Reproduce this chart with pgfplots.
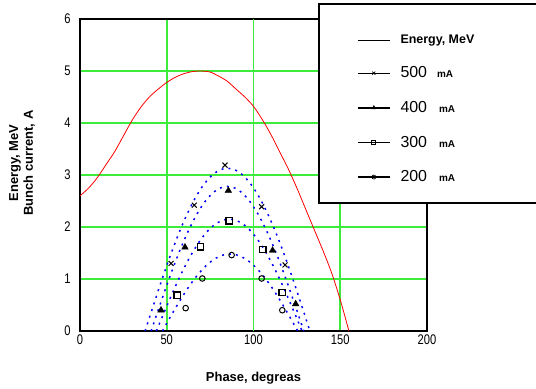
\documentclass[border=0pt]{standalone}
\usepackage{fontspec}
\setmainfont{Liberation Sans}
\newfontfamily\tickfont[FakeStretch=0.8]{Liberation Sans}
\usepackage{pgfplots}
\pgfplotsset{compat=1.18}
\definecolor{gridgreen}{RGB}{60,235,60}
\begin{document}
\begin{tikzpicture}
\useasboundingbox (0,0) rectangle (536bp,389bp);
\begin{axis}[
  at={(80bp,58bp)}, anchor=south west,
  scale only axis, width=347bp, height=312bp,
  xmin=0, xmax=200, ymin=0, ymax=6,
  xtick={0,50,100,150,200}, ytick={0,1,2,3,4,5,6},
  major tick length=0pt,
  xmajorgrids, ymajorgrids,
  major grid style={line width=1.8bp, draw=gridgreen, solid},
  axis line style={line width=1.1bp, black},
  clip=false,
  /pgf/number format/assume math mode=true,
  ticklabel style={font=\tickfont\fontsize{14}{14}\selectfont},
  yticklabel style={xshift=-6bp},
  xlabel={Phase, degreas},
  xlabel style={font=\bfseries\fontsize{13}{15}\selectfont, at={(axis description cs:0.5,-0.163)}, anchor=base},
  ylabel={Energy, MeV\\Bunch current, A},
  ylabel style={font=\bfseries\fontsize{13}{15}\selectfont, align=center, at={(axis description cs:-0.167,0.538)}, anchor=center, rotate=0},
  legend image code/.code={\draw[mark repeat=2,mark phase=2,#1] plot coordinates {(0bp,0bp) (16bp,0bp) (32bp,0bp)};},
  legend style={at={(axis description cs:0.798,0.95)}, anchor=north west, draw=none, fill=none, inner sep=0pt, row sep=22bp, column sep=10bp, nodes={inner sep=0pt}},
  legend cell align=left,
]
\draw[gridgreen, line width=1.8bp] (axis cs:100,0) -- (axis cs:100,6);
% Energy
\addplot[red, line width=0.8bp, smooth, forget plot] coordinates {
(0,2.6) (5,2.75) (10,2.95) (15,3.2) (20,3.45) (25,3.75) (30,4.05) (35,4.3) (40,4.5) (45,4.65) (50,4.78) (55,4.88) (60,4.95) (65,4.99) (70,5.0) (75,4.98) (80,4.9) (85,4.8) (90,4.65) (95,4.5) (100,4.32) (105,4.07) (110,3.78) (115,3.45) (120,3.12) (125,2.75) (130,2.35) (135,1.95) (140,1.55) (145,1.12) (150,0.6) (155,0)};
% calculated curves
\addplot[blue, line width=1.5bp, dash pattern=on 2bp off 5bp, smooth, forget plot] coordinates {
(37.5,0) (42.25,0.488) (47,0.967) (51.75,1.421) (56.5,1.840) (61.25,2.213) (66,2.532) (70.75,2.789) (75.5,2.977) (80.25,3.092) (85,3.13) (89.75,3.092) (94.5,2.977) (99.25,2.789) (104,2.532) (108.75,2.213) (113.5,1.840) (118.25,1.421) (123,0.967) (127.75,0.488) (132.5,0)};
\addplot[blue, line width=1.5bp, dash pattern=on 2bp off 5bp, smooth, forget plot] coordinates {
(41,0) (45.4,0.434) (49.8,0.859) (54.2,1.262) (58.6,1.635) (63,1.965) (67.4,2.249) (71.8,2.477) (76.2,2.644) (80.6,2.747) (85,2.78) (89.4,2.747) (93.8,2.644) (98.2,2.477) (102.6,2.249) (107,1.965) (111.4,1.635) (115.8,1.262) (120.2,0.859) (124.6,0.434) (129,0)};
\addplot[blue, line width=1.5bp, dash pattern=on 2bp off 5bp, smooth, forget plot] coordinates {
(44,0) (48.2,0.335) (52.4,0.664) (56.6,0.976) (60.8,1.264) (65,1.520) (69.2,1.739) (73.4,1.916) (77.6,2.045) (81.8,2.124) (86,2.15) (90.2,2.124) (94.4,2.045) (98.6,1.916) (102.8,1.739) (107,1.520) (111.2,1.264) (115.4,0.976) (119.6,0.664) (123.8,0.335) (128,0)};
\addplot[blue, line width=1.5bp, dash pattern=on 2bp off 5bp, smooth, forget plot] coordinates {
(47.5,0) (51.4,0.231) (55.3,0.457) (59.2,0.672) (63.1,0.870) (67,1.046) (70.9,1.197) (74.8,1.319) (78.7,1.407) (82.6,1.462) (86.5,1.48) (90.4,1.462) (94.3,1.407) (98.2,1.319) (102.1,1.197) (106,1.046) (109.9,0.870) (113.8,0.672) (117.7,0.457) (121.6,0.231) (125.5,0)};
% measured points
\addplot[only marks, mark=x, mark size=3.5bp, black, line width=1bp, forget plot] coordinates {
(52.5,1.30) (65.9,2.42) (83.6,3.19) (104.7,2.39) (118.2,1.27)};
\addplot[only marks, mark=triangle*, mark size=3.8bp, black, forget plot] coordinates {
(46.7,0.40) (60.5,1.61) (85.5,2.70) (111,1.55) (124.3,0.52)};
\addplot[only marks, mark=square, mark size=3.2bp, black, line width=1.3bp, forget plot] coordinates {
(56.1,0.69) (69.5,1.62) (86,2.12) (105.3,1.57) (116.6,0.74)};
\addplot[only marks, mark=o, mark size=2.8bp, black, line width=1bp, forget plot] coordinates {
(60.9,0.44) (70.5,1.01) (87.4,1.46) (104.7,1.01) (116.6,0.40)};
% legend box
\draw[line width=1.3bp, fill=white] (axis description cs:0.689,1.048) rectangle (axis description cs:1.6,0.41);
\addlegendimage{black, line width=0.6bp}
\addlegendentry{\bfseries\fontsize{12.5}{14}\selectfont Energy, MeV}
\addlegendimage{black, line width=0.7bp, mark=x, mark size=2.2bp, mark options={solid}}
\addlegendentry{{\fontsize{16}{16}\selectfont 500}\hspace{10bp}{\bfseries\fontsize{10}{12}\selectfont mA}}
\addlegendimage{black, line width=1.4bp, mark=triangle*, mark size=2.2bp, mark options={solid, line width=0.5bp}}
\addlegendentry{{\fontsize{16}{16}\selectfont 400}\hspace{12bp}{\bfseries\fontsize{10}{12}\selectfont mA}}
\addlegendimage{black, line width=0.7bp, mark=square, mark size=2bp, mark options={solid, fill=white}}
\addlegendentry{{\fontsize{16}{16}\selectfont 300}\hspace{12bp}{\bfseries\fontsize{10}{12}\selectfont mA}}
\addlegendimage{black, line width=1.4bp, mark=o, mark size=2bp, mark options={solid, fill=white, line width=0.7bp}}
\addlegendentry{{\fontsize{16}{16}\selectfont 200}\hspace{12bp}{\bfseries\fontsize{10}{12}\selectfont mA}}
\end{axis}
\end{tikzpicture}
\end{document}
